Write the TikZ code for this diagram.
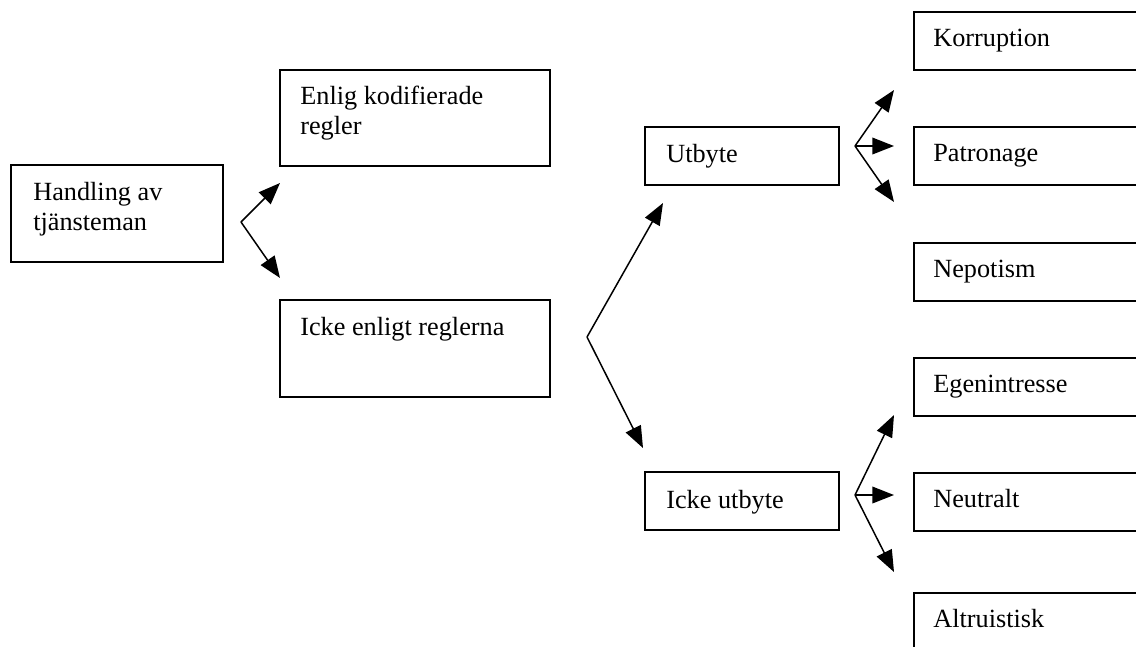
\documentclass[tikz,border=0pt]{standalone}
\usepackage{fontspec}
\setmainfont{Liberation Serif}
\usetikzlibrary{arrows.meta,calc,positioning}

\tikzset{
  box/.style 2 args={draw, line width=0.9pt, anchor=north west, inner sep=0pt,
    minimum width=#1*0.6pt, minimum height=#2*0.6pt},
  lbl/.style={anchor=base west, inner sep=0pt, align=left,
    font=\fontsize{15.75}{18}\selectfont},
  arr/.style={line width=0.9pt, -{Triangle[length=13pt,width=10pt]}}
}

\begin{document}
\begin{tikzpicture}[x=0.6pt,y=-0.6pt]
  \clip (0,0) rectangle (1136,646);

  %% left part
  \node [box={212}{97}] (box_hand) at (10,164) {};
  \node [lbl] (txt_hand) at ($(box_hand.north west)+(23,66)$) {Handling av\\tjänsteman};

  \node [box={270}{96}] (box_enlig) at (279,69) {};
  \node [lbl] (txt_enlig) at ($(box_enlig.north west)+(21,65)$) {Enlig kodifierade\\regler};

  \node [box={270}{97}] (box_icke) at (279,299) {};
  \node [lbl] (txt_icke) at ($(box_icke.north west)+(21,36)$) {Icke enligt reglerna};

  %% middle part
  \node [box={194}{58}] (box_utb) at (644,126) {};
  \node [lbl] (txt_utb) at ($(box_utb.north west)+(22,36)$) {Utbyte};

  \node [box={194}{58}] (box_nutb) at (644,471) {};
  \node [lbl] (txt_nutb) at ($(box_nutb.north west)+(22,37)$) {Icke utbyte};

  %% right column
  \foreach \top/\txt [count=\i] in {11/Korruption,126/Patronage,242/Nepotism,
                                    357/Egenintresse,472/Neutralt,592/Altruistisk} {
    \node [box={250}{58},name=res_\i] at (913,\top) {};
    \node [lbl,name=res_txt_\i] at ($(res_\i.north west)+(20,35.5)$) {\txt};
  }

  %% forks
  \coordinate (fork_a) at (241,222);
  \coordinate (fork_a_1) at (280,183);
  \coordinate (fork_a_2) at (280,278);
  \coordinate (fork_b) at (587,337);
  \coordinate (fork_b_1) at (663,203);
  \coordinate (fork_b_2) at (643,448);
  \coordinate (fork_c) at (855,146);
  \coordinate (fork_d) at (855,495);
  \foreach \f/\a/\b in {c/90/202,d/415/572} {
    \coordinate (fork_\f_1) at (894,\a);
    \coordinate (fork_\f_3) at (894,\b);
  }
  \coordinate (fork_c_2) at (894,146);
  \coordinate (fork_d_2) at (894,495);

  \foreach \f in {a,b} {
    \draw [arr] (fork_\f) -- (fork_\f_1);
    \draw [arr] (fork_\f) -- (fork_\f_2);
  }
  \foreach \f in {c,d} {
    \foreach \a in {1,2,3} {
      \draw [arr] (fork_\f) -- (fork_\f_\a);
    }
  }
\end{tikzpicture}
\end{document}
